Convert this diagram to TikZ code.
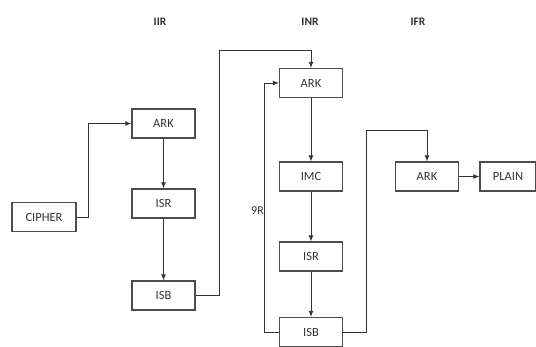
\documentclass[tikz,border=0pt]{standalone}
\usepackage{fontspec}
\setmainfont{Carlito}
\usetikzlibrary{arrows.meta}
\begin{document}
\begin{tikzpicture}[x=1pt,y=-1pt,
  blk/.style={draw=black!70,line width=1.3pt,minimum height=29pt,minimum width=63pt,inner sep=0pt,font=\fontsize{12.5}{14}\selectfont,text=black!80},
  conn/.style={draw=black!80,line width=0.9pt},
  arr/.style={conn,-{Latex[length=6pt,width=5pt]}},
  ttl/.style={font=\fontsize{11.5}{13}\selectfont\bfseries,text=black!80}]
\useasboundingbox[fill=white] (0,0) rectangle (536,347);
\node[ttl] (tIIR) at (160,22) {IIR};
\node[ttl] (tINR) at (310,22) {INR};
\node[ttl] (tIFR) at (418,22) {IFR};
\node[blk,minimum width=64pt] (cipher) at (44,217) {CIPHER};
\node[blk] (ark1) at (163.5,123.5) {ARK};
\node[blk] (isr1) at (163.5,203.5) {ISR};
\node[blk] (isb1) at (163.5,295.5) {ISB};
\node[blk] (ark2) at (311,83) {ARK};
\node[blk] (imc) at (311,176.5) {IMC};
\node[blk] (isr2) at (311,256.5) {ISR};
\node[blk] (isb2) at (311,332) {ISB};
\node[blk] (ark3) at (427,176.5) {ARK};
\node[blk,minimum width=56pt] (plain) at (508,176.5) {PLAIN};
\coordinate (c1) at (88,217);
\draw[arr] (cipher.east) -- (c1) |- (ark1.west);
\draw[arr] (ark1) -- (isr1);
\draw[arr] (isr1) -- (isb1);
\coordinate (c2) at (219,295.5);
\coordinate (c3) at (219,50);
\draw[arr] (isb1.east) -- (c2) -- (c3) -| (ark2.north);
\draw[arr] (ark2) -- (imc);
\draw[arr] (imc) -- (isr2);
\draw[arr] (isr2) -- (isb2);
\coordinate (c4) at (264,332);
\draw[arr] (isb2.west) -- (c4) |- (ark2.west);
\node[font=\fontsize{12}{13}\selectfont,text=black!80,anchor=east,inner sep=0pt] (nine) at (264,211) {9R};
\coordinate (c5) at (366,332);
\coordinate (c6) at (366,130);
\draw[arr] (isb2.east) -- (c5) -- (c6) -| (ark3.north);
\draw[arr] (ark3) -- (plain);
\end{tikzpicture}
\end{document}
